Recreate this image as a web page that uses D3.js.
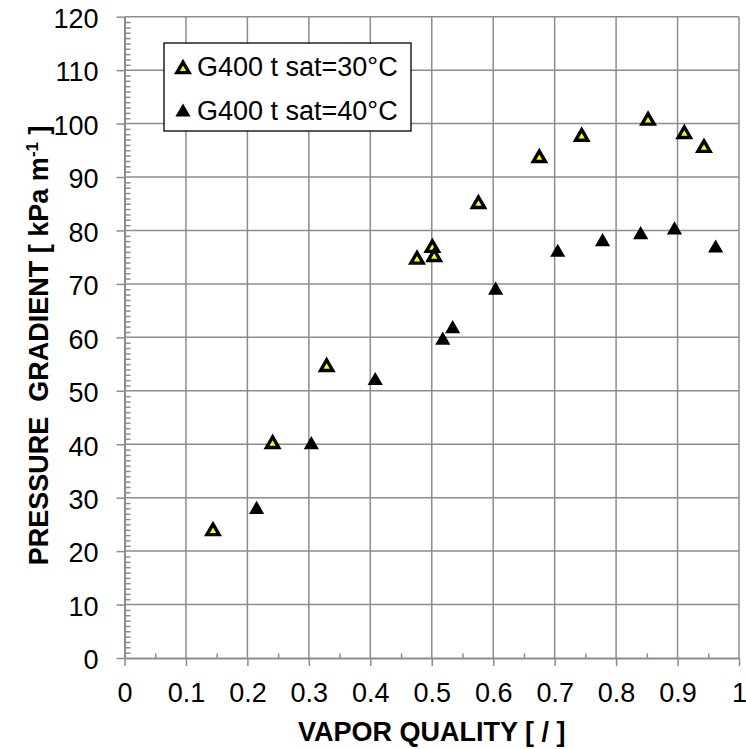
<!DOCTYPE html>
<html>
<head>
<meta charset="utf-8">
<script src="https://cdn.jsdelivr.net/npm/d3@7"></script>
<style>
body { margin: 0; background: #fff; }
svg { display: block; }
text { font-family: Arial, "Liberation Sans", sans-serif; }
</style>
</head>
<body>
<script>
// Series 1: G400, t sat = 30 C
var quality_30  = [0.144, 0.241, 0.329, 0.476, 0.501, 0.504, 0.576, 0.675, 0.744, 0.852, 0.911, 0.943];
var gradient_30 = [24.2, 40.5, 54.9, 75.0, 77.2, 75.5, 85.4, 94.0, 98.0, 101.0, 98.5, 95.9];

// Series 2: G400, t sat = 40 C
var quality_40  = [0.215, 0.304, 0.408, 0.518, 0.534, 0.604, 0.705, 0.778, 0.840, 0.895, 0.962];
var gradient_40 = [28.2, 40.3, 52.3, 59.85, 62.0, 69.2, 76.3, 78.3, 79.6, 80.5, 77.1];

var x_ticks = [0, 0.1, 0.2, 0.3, 0.4, 0.5, 0.6, 0.7, 0.8, 0.9, 1];
var x_labels = ["0", "0.1", "0.2", "0.3", "0.4", "0.5", "0.6", "0.7", "0.8", "0.9", "1"];
var y_ticks = [0, 10, 20, 30, 40, 50, 60, 70, 80, 90, 100, 110, 120];
var series_names = ["G400 t sat=30\u00b0C", "G400 t sat=40\u00b0C"];

var width = 746, height = 749;
var plot_left = 124.5, plot_right = 739, plot_top = 16.7, plot_bottom = 658;
var grid_color = "#8c8c8c";
var font_size = 27;

var svg = d3.select("body").append("svg").attr("width", width).attr("height", height);

var x = d3.scaleLinear().domain([0, 1]).range([plot_left, plot_right]);
var y = d3.scaleLinear().domain([0, 120]).range([plot_bottom, plot_top]);

// grid
var grid = svg.append("g");
grid.selectAll(".vg").data(x_ticks.slice(1)).enter().append("line")
    .attr("x1", function(d){ return x(d); }).attr("x2", function(d){ return x(d); })
    .attr("y1", y(120)).attr("y2", y(0))
    .style("stroke", grid_color).style("stroke-width", 1.5);
grid.selectAll(".hg").data(y_ticks.slice(1)).enter().append("line")
    .attr("x1", x(0)).attr("x2", x(1))
    .attr("y1", function(d){ return y(d); }).attr("y2", function(d){ return y(d); })
    .style("stroke", grid_color).style("stroke-width", 1.5);

// minor ticks (inside the plot)
var x_minor = d3.range(1, 20, 2).map(function(i){ return i / 20; });
var y_minor = d3.range(0, 121).filter(function(v){ return v % 10 != 0; });

svg.append("g").attr("transform", "translate(0," + plot_bottom + ")")
    .call(d3.axisBottom(x).tickValues(x_minor).tickSize(-4.5).tickSizeOuter(0).tickFormat(""))
    .call(function(g){ g.select(".domain").remove(); });
svg.append("g").attr("transform", "translate(" + plot_left + ",0)")
    .call(d3.axisRight(y).tickValues(y_minor).tickSize(6).tickSizeOuter(0).tickFormat(""))
    .call(function(g){ g.select(".domain").remove(); });

// main axes
var xAxis = svg.append("g").attr("transform", "translate(0," + plot_bottom + ")")
    .call(d3.axisBottom(x).tickValues(x_ticks).tickSize(8).tickSizeOuter(0).tickPadding(17)
        .tickFormat(function(d, i){ return x_labels[i]; }));
var yAxis = svg.append("g").attr("transform", "translate(" + plot_left + ",0)")
    .call(d3.axisLeft(y).tickValues(y_ticks).tickSize(8).tickSizeOuter(0).tickPadding(18));

[xAxis, yAxis].forEach(function(a){
    a.select(".domain").style("stroke", grid_color).style("stroke-width", 2);
    a.selectAll(".tick text").style("font-size", font_size + "px").style("fill", "#000")
        .style("font-family", "Arial, 'Liberation Sans', sans-serif");
});
svg.selectAll(".tick line").style("stroke", grid_color).style("stroke-width", 1.5);
yAxis.selectAll(".tick text").attr("dy", "0.4em");

// markers
var black_tri = d3.symbol().type(d3.symbolTriangle).size(100);
var yellow_tri = d3.symbol().type(d3.symbolTriangle).size(64);

var pts30 = quality_30.map(function(q, i){ return [q, gradient_30[i]]; });
var pts40 = quality_40.map(function(q, i){ return [q, gradient_40[i]]; });

svg.append("g").selectAll("path").data(pts30).enter().append("path")
    .attr("d", yellow_tri)
    .attr("transform", function(d){ return "translate(" + x(d[0]) + "," + (y(d[1]) + 2.4) + ")"; })
    .style("fill", "#ffff00").style("stroke", "#000").style("stroke-width", 3.4);

svg.append("g").selectAll("path").data(pts40).enter().append("path")
    .attr("d", black_tri)
    .attr("transform", function(d){ return "translate(" + x(d[0]) + "," + (y(d[1]) + 2.2) + ")"; })
    .style("fill", "#000");

// legend
var legend = svg.append("g");
legend.append("rect").attr("x", 164).attr("y", 43).attr("width", 247).attr("height", 88)
    .style("fill", "#fff").style("stroke", "#000").style("stroke-width", 1.3);
var rows = [66.7, 110];
legend.append("path").attr("d", yellow_tri)
    .attr("transform", "translate(183," + (rows[0] + 2.4) + ")")
    .style("fill", "#ffff00").style("stroke", "#000").style("stroke-width", 3.4);
legend.append("path").attr("d", black_tri)
    .attr("transform", "translate(183," + (rows[1] + 2.2) + ")")
    .style("fill", "#000");
legend.selectAll("text").data(series_names).enter().append("text")
    .attr("x", 197).attr("y", function(d, i){ return rows[i]; }).attr("dy", "0.36em")
    .style("font-size", font_size + "px")
    .text(function(d){ return d; });

// axis titles
svg.append("text").attr("x", (plot_left + plot_right) / 2).attr("y", 740.7)
    .attr("text-anchor", "middle")
    .style("font-size", font_size + "px").style("font-weight", "bold")
    .text("VAPOR QUALITY [ / ]");

var ytitle = svg.append("text")
    .attr("transform", "translate(48," + ((plot_top + plot_bottom) / 2 + 8) + ") rotate(-90)")
    .attr("text-anchor", "middle")
    .attr("xml:space", "preserve")
    .style("white-space", "pre")
    .style("font-size", font_size + "px").style("font-weight", "bold");
ytitle.append("tspan").text("PRESSURE  GRADIENT [ kPa m");
ytitle.append("tspan").attr("dy", -10).style("font-size", "17px").text("-1");
ytitle.append("tspan").attr("dy", 10).text(" ]");
</script>
</body>
</html>
